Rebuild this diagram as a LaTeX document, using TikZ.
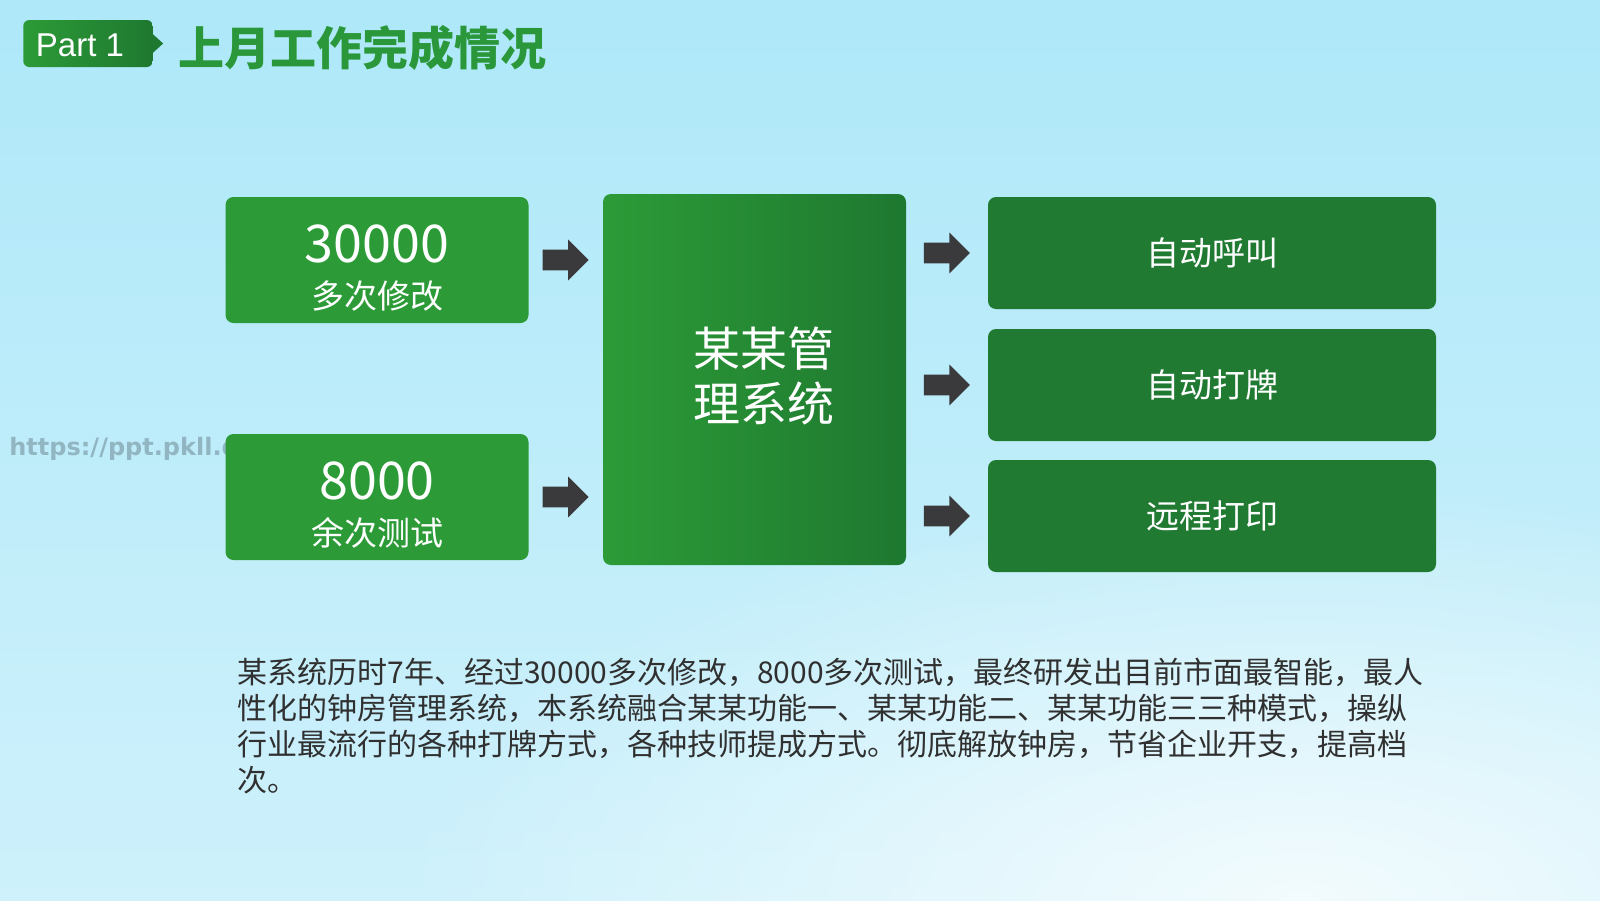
\documentclass[tikz,border=0pt]{standalone}
\usepackage{fontspec}
\setmainfont{Noto Sans CJK SC}
\newfontfamily\arialfont{Liberation Sans}
\newfontfamily\wmfont{DejaVu Sans}
\usetikzlibrary{shapes.arrows,calc,fadings}
\definecolor{bgtop}{RGB}{174,232,249}
\definecolor{bgbot}{RGB}{206,241,251}
\definecolor{gA}{RGB}{44,155,55}
\definecolor{gD}{RGB}{30,120,48}
\definecolor{gR}{RGB}{32,122,50}
\definecolor{arr}{RGB}{58,58,60}
\definecolor{ttl}{RGB}{42,152,58}
\definecolor{paratxt}{RGB}{48,48,48}
\definecolor{wmc}{RGB}{145,182,194}
\tikzfading[name=glow, inner color=transparent!25, outer color=transparent!100]
\begin{document}
\begin{tikzpicture}[x=0.5pt,y=-0.5pt,
  tagbox/.style={rounded corners=3pt, left color=gA, right color=gD, minimum width=64.75pt, minimum height=23.5pt, inner sep=0pt},
  tagtxt/.style={text=white, inner sep=0pt, font=\arialfont\fontsize{16.5}{16.5}\selectfont},
  smallbox/.style={fill=gA, rounded corners=4pt, minimum width=151.5pt, minimum height=63pt, inner sep=0pt},
  bigbox/.style={rounded corners=4pt, left color=gA, right color=gD, minimum width=151.5pt, minimum height=185.5pt, inner sep=0pt},
  rightbox/.style={fill=gR, rounded corners=4pt, minimum width=224pt, minimum height=56pt, inner sep=0pt, text=white, font=\fontsize{16.5}{16.5}\selectfont},
  numtxt/.style={text=white, inner sep=0pt, font=\fontsize{26}{26}\selectfont},
  subtxt/.style={text=white, inner sep=0pt, font=\fontsize{16.5}{16.5}\selectfont},
  bigtxt/.style={text=white, inner sep=0pt, align=center, font=\fontsize{23.5}{27.5}\selectfont},
  barrow/.style={single arrow, fill=arr, draw=none, minimum height=23pt, minimum width=20pt, single arrow head extend=5pt, single arrow head indent=0pt, inner xsep=0pt, inner ysep=5pt, xshift=-2.7pt},
  paratext/.style={text=paratxt, inner sep=0pt, align=left, font=\fontsize{15}{18}\selectfont}
]
\useasboundingbox (0,0) rectangle (1600,900);
\shade[top color=bgtop, bottom color=bgbot] (0,0) rectangle (1600,900);
\fill[white, path fading=glow] (1300,900) ellipse [x radius=900, y radius=420];

% header
\node[tagbox] (part) at (88,43.5) {};
\fill[gD] ($(part.east)+(-1,-10)$) -- ($(part.east)+(10,0)$) -- ($(part.east)+(-1,10)$) -- cycle;
\node[tagtxt] (parttxt) at ($(part.center)+(-8,2)$) {Part 1};
\node[anchor=west, inner sep=0pt, text=ttl, font=\bfseries\fontsize{23}{23}\selectfont] (title) at (178,48) {上月工作完成情况};

% watermark
\node[anchor=west, inner sep=0pt, text=wmc, font=\wmfont\bfseries\fontsize{12}{12}\selectfont] (wm) at (9,449) {https://ppt.pkll.de};

% left boxes
\node[smallbox] (a) at (377,260) {};
\node[numtxt] (an) at ($(a.center)+(0,-16)$) {30000};
\node[subtxt] (as) at ($(a.center)+(0,36)$) {多次修改};
\node[smallbox] (b) at (377,497) {};
\node[numtxt] (bn) at ($(b.center)+(0,-16)$) {8000};
\node[subtxt] (bs) at ($(b.center)+(0,36)$) {余次测试};

% center box
\node[bigbox] (c) at (754.5,379.5) {};
\node[bigtxt] (ct) at (764,376) {某某管\\理系统};

% right boxes
\node[rightbox] (r1) at (1212,253) {自动呼叫};
\node[rightbox] (r2) at (1212,385) {自动打牌};
\node[rightbox] (r3) at (1212,516) {远程打印};

% arrows
\node[barrow] (x1) at ($(a.east)!0.5!(c.west |- a.east)$) {};
\node[barrow] (x2) at ($(b.east)!0.5!(c.west |- b.east)$) {};
\node[barrow] (y1) at ($(c.east |- r1.west)!0.5!(r1.west)$) {};
\node[barrow] (y2) at ($(c.east |- r2.west)!0.5!(r2.west)$) {};
\node[barrow] (y3) at ($(c.east |- r3.west)!0.5!(r3.west)$) {};

% paragraph
\node[paratext, anchor=north west] (p) at (237,658) {某系统历时7年、经过30000多次修改，8000多次测试，最终研发出目前市面最智能，最人\\性化的钟房管理系统，本系统融合某某功能一、某某功能二、某某功能三三种模式，操纵\\行业最流行的各种打牌方式，各种技师提成方式。彻底解放钟房，节省企业开支，提高档\\次。};
\end{tikzpicture}
\end{document}
